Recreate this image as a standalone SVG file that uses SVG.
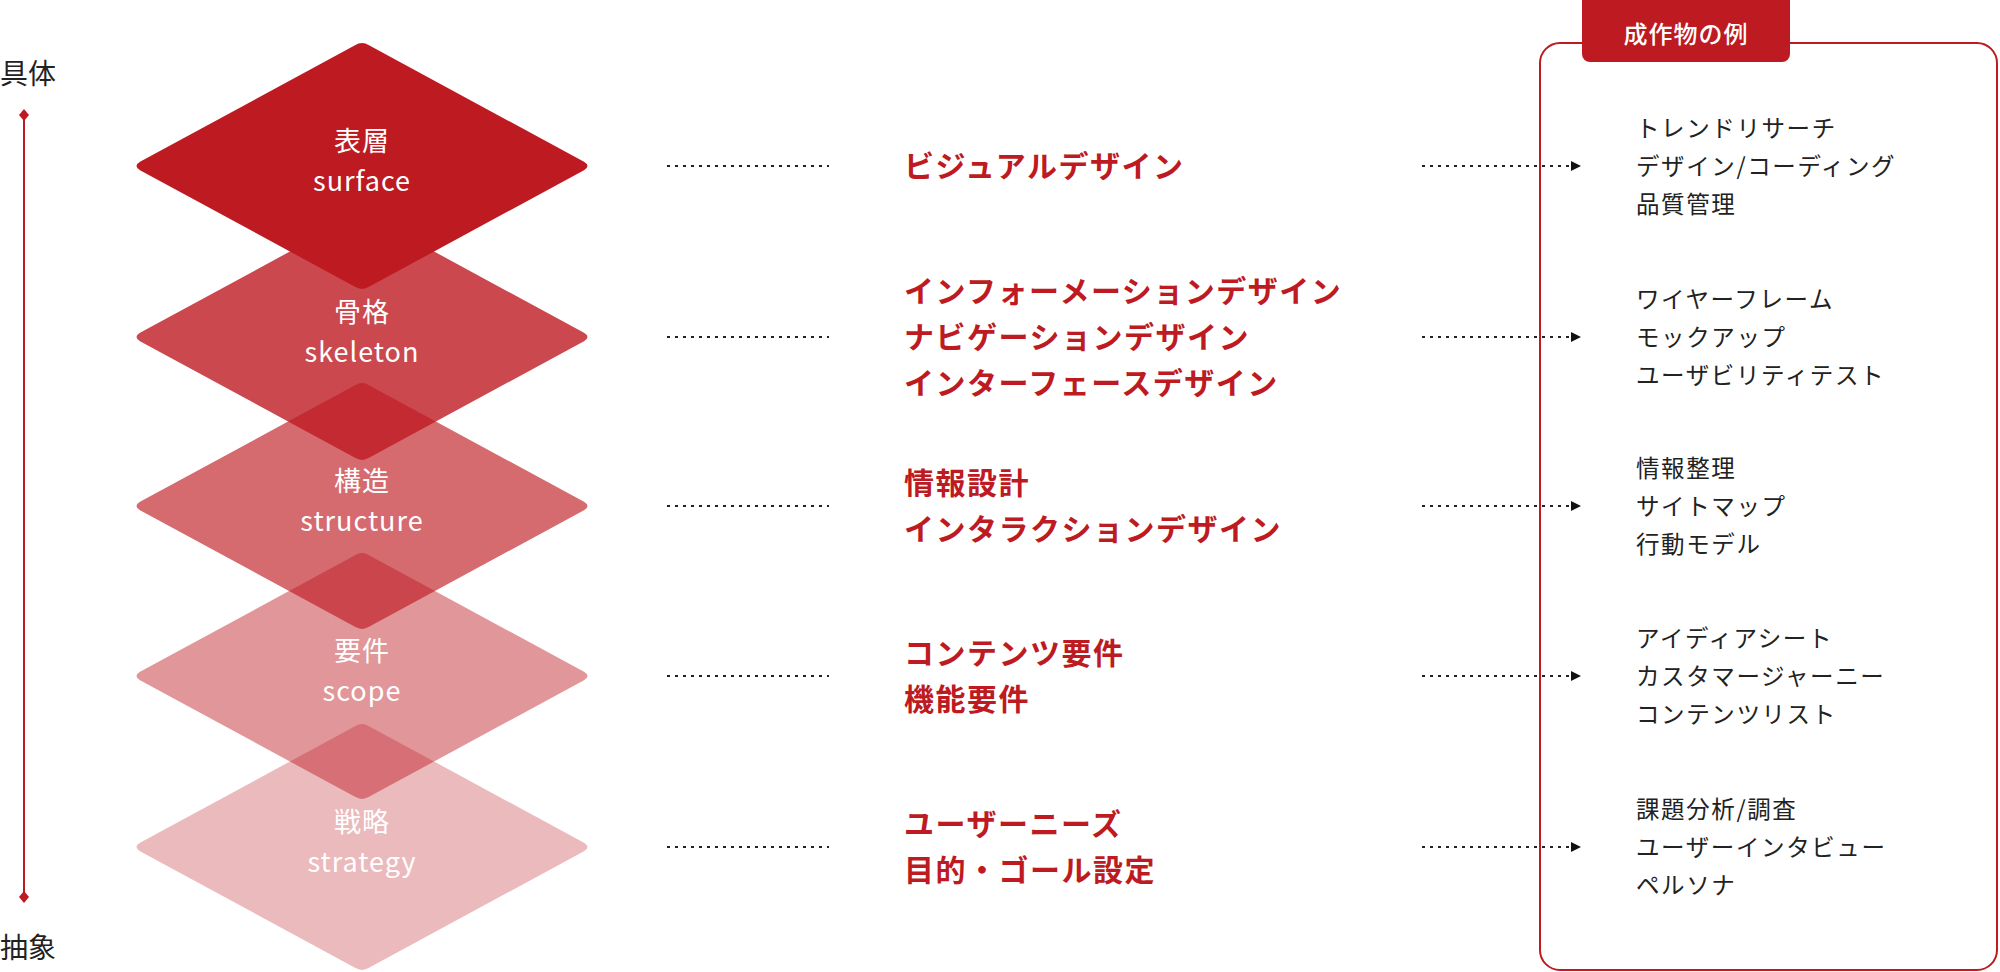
<svg xmlns="http://www.w3.org/2000/svg" xmlns:xlink="http://www.w3.org/1999/xlink" width="2000" height="972" viewBox="0 0 2000 972">
  <style>
    text { font-family: "Noto Sans CJK JP", "Noto Sans", sans-serif; }
    .axis { font-size: 28px; fill: #222; }
    .lbl { font-size: 27px; fill: #fff; text-anchor: middle; letter-spacing: 1px; }
    .mid { font-size: 30px; fill: #be1a22; font-weight: 700; letter-spacing: 1.5px; }
    .out { font-size: 23.5px; fill: #222; letter-spacing: 1.6px; }
    .tab { font-size: 24px; fill: #fff; text-anchor: middle; font-weight: 500; letter-spacing: 1px; }
    .dot { stroke: #222; stroke-width: 2; stroke-dasharray: 3 5; fill: none; }
    .red { fill: #be1a22; }
  </style>
  <defs>
    <path id="dia" d="M -222,-4.2 L -7,-120.8 Q 0,-125 7,-120.8 L 222,-4.2 Q 229,0 222,4.2 L 7,120.8 Q 0,125 -7,120.8 L -222,4.2 Q -229,0 -222,-4.2 Z"/>
    <marker id="arr" viewBox="0 0 10 10" refX="10" refY="5" markerWidth="10" markerHeight="10" markerUnits="userSpaceOnUse" orient="auto">
      <path d="M0,0 L10,5 L0,10 Z" fill="#111"/>
    </marker>
  </defs>

  <g id="axis">
    <text class="axis" x="0" y="84">具体</text>
    <line x1="24" y1="115" x2="24" y2="897" stroke="#be1a22" stroke-width="2"/>
    <path class="red" d="M24,109 L29,115 L24,121 L19,115 Z"/>
    <path class="red" d="M24,891 L29,897 L24,903 L19,897 Z"/>
    <text class="axis" x="0" y="958">抽象</text>
  </g>

  <g id="layer-strategy">
    <use xlink:href="#dia" transform="translate(362,847)" fill="#be1a22" fill-opacity="0.3"/>
    <text class="lbl" x="362" y="832">戦略</text>
    <text class="lbl" x="362" y="872">strategy</text>
  </g>
  <g id="layer-scope">
    <use xlink:href="#dia" transform="translate(362,676)" fill="#be1a22" fill-opacity="0.46"/>
    <text class="lbl" x="362" y="661">要件</text>
    <text class="lbl" x="362" y="701">scope</text>
  </g>
  <g id="layer-structure">
    <use xlink:href="#dia" transform="translate(362,506)" fill="#be1a22" fill-opacity="0.65"/>
    <text class="lbl" x="362" y="491">構造</text>
    <text class="lbl" x="362" y="531">structure</text>
  </g>
  <g id="layer-skeleton">
    <use xlink:href="#dia" transform="translate(362,337)" fill="#be1a22" fill-opacity="0.8"/>
    <text class="lbl" x="362" y="322">骨格</text>
    <text class="lbl" x="362" y="362">skeleton</text>
  </g>
  <g id="layer-surface">
    <use xlink:href="#dia" transform="translate(362,166)" fill="#be1a22"/>
    <text class="lbl" x="362" y="151">表層</text>
    <text class="lbl" x="362" y="191">surface</text>
  </g>

  <g id="connectors">
    <line class="dot" x1="667" y1="166" x2="829" y2="166"/>
    <line class="dot" x1="667" y1="337" x2="829" y2="337"/>
    <line class="dot" x1="667" y1="506" x2="829" y2="506"/>
    <line class="dot" x1="667" y1="676" x2="829" y2="676"/>
    <line class="dot" x1="667" y1="847" x2="829" y2="847"/>
    <line class="dot" x1="1422" y1="166" x2="1581" y2="166" marker-end="url(#arr)"/>
    <line class="dot" x1="1422" y1="337" x2="1581" y2="337" marker-end="url(#arr)"/>
    <line class="dot" x1="1422" y1="506" x2="1581" y2="506" marker-end="url(#arr)"/>
    <line class="dot" x1="1422" y1="676" x2="1581" y2="676" marker-end="url(#arr)"/>
    <line class="dot" x1="1422" y1="847" x2="1581" y2="847" marker-end="url(#arr)"/>
  </g>

  <g id="mid-surface">
    <text class="mid" x="904" y="177">ビジュアルデザイン</text>
  </g>
  <g id="mid-skeleton">
    <text class="mid" x="904" y="302">インフォーメーションデザイン</text>
    <text class="mid" x="904" y="348">ナビゲーションデザイン</text>
    <text class="mid" x="904" y="394">インターフェースデザイン</text>
  </g>
  <g id="mid-structure">
    <text class="mid" x="904" y="494">情報設計</text>
    <text class="mid" x="904" y="540">インタラクションデザイン</text>
  </g>
  <g id="mid-scope">
    <text class="mid" x="904" y="664">コンテンツ要件</text>
    <text class="mid" x="904" y="710">機能要件</text>
  </g>
  <g id="mid-strategy">
    <text class="mid" x="904" y="835">ユーザーニーズ</text>
    <text class="mid" x="904" y="881">目的・ゴール設定</text>
  </g>

  <g id="outputs-box">
    <rect x="1540" y="43" width="457" height="927" rx="20" ry="20" fill="none" stroke="#be1a22" stroke-width="2"/>
    <rect x="1582" y="-10" width="208" height="72" rx="8" ry="8" fill="#be1a22"/>
    <text class="tab" x="1686" y="43">成作物の例</text>
  </g>
  <g id="out-surface">
    <text class="out" x="1636" y="137">トレンドリサーチ</text>
    <text class="out" x="1636" y="175">デザイン/コーディング</text>
    <text class="out" x="1636" y="213">品質管理</text>
  </g>
  <g id="out-skeleton">
    <text class="out" x="1636" y="308">ワイヤーフレーム</text>
    <text class="out" x="1636" y="346">モックアップ</text>
    <text class="out" x="1636" y="384">ユーザビリティテスト</text>
  </g>
  <g id="out-structure">
    <text class="out" x="1636" y="477">情報整理</text>
    <text class="out" x="1636" y="515">サイトマップ</text>
    <text class="out" x="1636" y="553">行動モデル</text>
  </g>
  <g id="out-scope">
    <text class="out" x="1636" y="647">アイディアシート</text>
    <text class="out" x="1636" y="685">カスタマージャーニー</text>
    <text class="out" x="1636" y="723">コンテンツリスト</text>
  </g>
  <g id="out-strategy">
    <text class="out" x="1636" y="818">課題分析/調査</text>
    <text class="out" x="1636" y="856">ユーザーインタビュー</text>
    <text class="out" x="1636" y="894">ペルソナ</text>
  </g>
</svg>
